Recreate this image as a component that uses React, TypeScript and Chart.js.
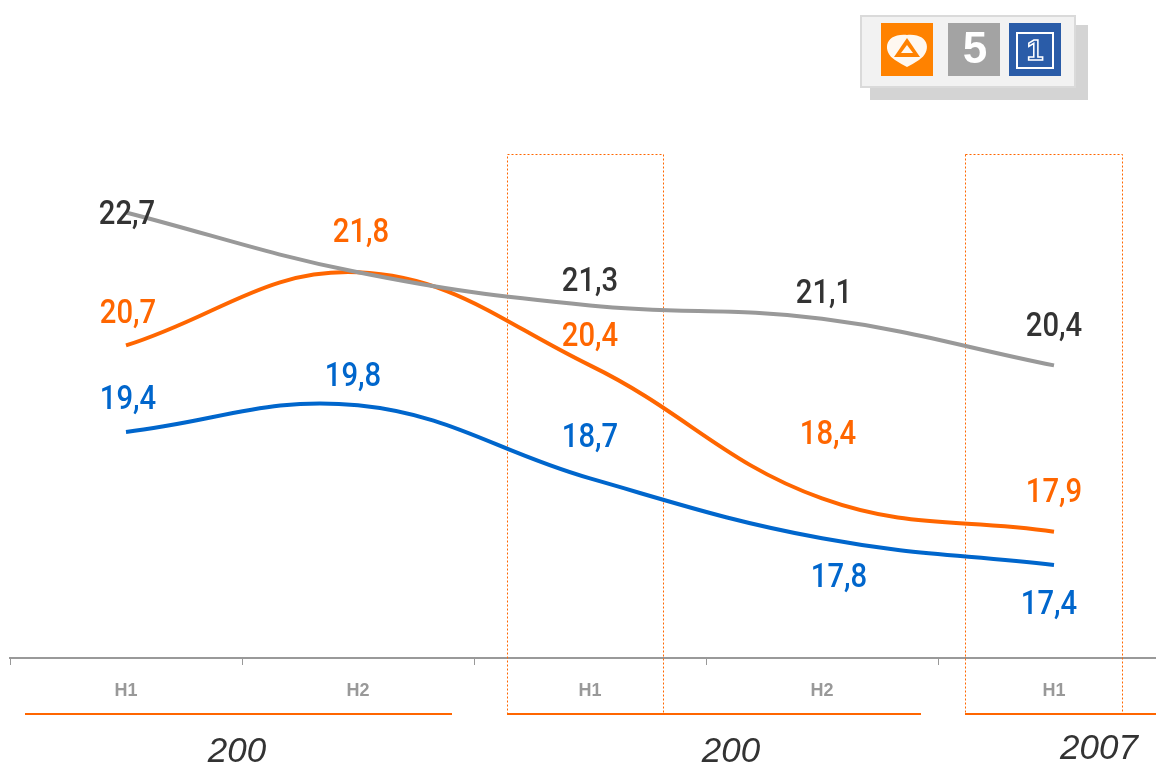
import React, { useEffect, useRef } from 'react';
import { Chart, registerables } from 'chart.js';

Chart.register(...registerables);

// ---------- data ----------
const categories = ['H1', 'H2', 'H1', 'H2', 'H1'];
const telecinco = [22.7, 21.8, 21.3, 21.1, 20.4];
const antena3 = [20.7, 21.8, 20.4, 18.4, 17.9];
const tve1 = [19.4, 19.8, 18.7, 17.8, 17.4];
const telecincoShown = [true, false, true, true, true];
const antena3Shown = [true, true, true, true, true];
const tve1Shown = [true, true, true, true, true];
const yearLabels = ['200', '200', '2007'];
const highlightedCategories = [2, 4];

// ---------- style ----------
const GRAY = '#999999';
const ORANGE = '#FF6600';
const BLUE = '#0066CC';
const DARK = '#333333';
const LABEL_FONT = 'Roboto, "Liberation Sans", sans-serif';
const LABEL_SQUEEZE = 0.86;

// label offsets (dx, dy) from the point, per series
const telecincoOffsets = [[1, 3], [0, 0], [0, -23], [2, -24], [0, -38]];
const antena3Offsets = [[2, -31], [3, -39], [0, -28], [6, -63], [0, -38]];
const tve1Offsets = [[2, -31], [-5, -28], [0, -40], [17, 40], [-5, 41]];

const yearPos = [[237, 752], [731, 752], [1099, 749]];
const boxExtents = [[-83, 73], [-89, 68]];
const underlineSegments = [[25, 452], [507, 921], [965, 1170]];

const overlayPlugin = {
  id: 'overlay',
  beforeDatasetsDraw(chart: any) {
    const ctx = chart.ctx;
    const xs = chart.scales.x;
    ctx.save();
    ctx.strokeStyle = ORANGE;
    ctx.lineWidth = 1;
    ctx.setLineDash([2, 2]);
    highlightedCategories.forEach((ci, i) => {
      const cx = xs.getPixelForValue(ci);
      const x0 = Math.round(cx + boxExtents[i][0]) + 0.5;
      const x1 = Math.round(cx + boxExtents[i][1]) + 0.5;
      ctx.strokeRect(x0, 154.5, x1 - x0, 560);
    });
    ctx.restore();
  },
  afterDatasetsDraw(chart: any) {
    const ctx = chart.ctx;
    const series = [
      { data: telecinco, shown: telecincoShown, off: telecincoOffsets, color: DARK, idx: 0 },
      { data: antena3, shown: antena3Shown, off: antena3Offsets, color: ORANGE, idx: 1 },
      { data: tve1, shown: tve1Shown, off: tve1Offsets, color: BLUE, idx: 2 },
    ];
    ctx.save();
    ctx.textAlign = 'center';
    ctx.textBaseline = 'middle';
    ctx.font = `500 34px ${LABEL_FONT}`;
    series.forEach((s) => {
      const meta = chart.getDatasetMeta(s.idx);
      ctx.fillStyle = s.color;
      s.data.forEach((v, i) => {
        if (!s.shown[i]) return;
        const pt = meta.data[i];
        ctx.save();
        ctx.translate(pt.x + s.off[i][0], pt.y + s.off[i][1]);
        ctx.scale(LABEL_SQUEEZE, 1);
        ctx.fillText(v.toFixed(1).replace('.', ','), 0, 0);
        ctx.restore();
      });
    });
    ctx.restore();
  },
  afterDraw(chart: any) {
    const ctx = chart.ctx;
    ctx.save();
    // underlines
    ctx.strokeStyle = ORANGE;
    ctx.lineWidth = 2;
    underlineSegments.forEach(([a, b]) => {
      ctx.beginPath();
      ctx.moveTo(a, 714);
      ctx.lineTo(b, 714);
      ctx.stroke();
    });
    // years
    ctx.fillStyle = DARK;
    ctx.font = 'italic 35px "Liberation Sans", Arial, sans-serif';
    ctx.textAlign = 'center';
    ctx.textBaseline = 'middle';
    yearLabels.forEach((t, i) => ctx.fillText(t, yearPos[i][0], yearPos[i][1]));

    // legend box with logos
    ctx.fillStyle = '#d4d4d4';
    ctx.fillRect(870, 25, 218, 75);
    ctx.fillStyle = '#f2f2f2';
    ctx.fillRect(860, 15, 216, 73);
    ctx.strokeStyle = '#dadada';
    ctx.lineWidth = 2;
    ctx.strokeRect(861, 16, 214, 71);

    // Antena 3
    ctx.fillStyle = '#FF8200';
    ctx.fillRect(881, 23, 52, 53);
    ctx.fillStyle = '#fff8f0';
    ctx.beginPath();
    ctx.moveTo(907, 35);
    ctx.bezierCurveTo(930, 33, 932, 52, 919, 60);
    ctx.quadraticCurveTo(913, 64, 907, 67);
    ctx.quadraticCurveTo(901, 64, 895, 60);
    ctx.bezierCurveTo(882, 52, 884, 33, 907, 35);
    ctx.fill();
    ctx.fillStyle = '#FF8200';
    ctx.beginPath();
    ctx.moveTo(907, 38);
    ctx.lineTo(920, 57);
    ctx.lineTo(894, 57);
    ctx.closePath();
    ctx.fill();
    ctx.fillStyle = '#fff8f0';
    ctx.beginPath();
    ctx.moveTo(907, 45);
    ctx.lineTo(913, 53);
    ctx.lineTo(901, 53);
    ctx.closePath();
    ctx.fill();

    // Telecinco
    ctx.fillStyle = '#A3A3A3';
    ctx.fillRect(948, 23, 52, 53);
    ctx.fillStyle = '#ffffff';
    ctx.font = 'bold 44px "Liberation Sans", Arial, sans-serif';
    ctx.textAlign = 'center';
    ctx.textBaseline = 'middle';
    ctx.fillText('5', 975, 51);

    // TVE 1
    ctx.fillStyle = '#2A5CA8';
    ctx.fillRect(1009, 23, 52, 53);
    ctx.strokeStyle = '#ffffff';
    ctx.lineWidth = 2;
    ctx.strokeRect(1017, 33, 36, 35);
    ctx.lineWidth = 1.5;
    ctx.font = 'bold 30px "Liberation Sans", Arial, sans-serif';
    ctx.strokeText('1', 1035, 52);
    ctx.restore();
  },
};

export default function App() {
  const canvasRef = useRef<HTMLCanvasElement | null>(null);

  useEffect(() => {
    const canvas = canvasRef.current;
    if (!canvas) return;
    const chart = new Chart(canvas, {
      type: 'line',
      data: {
        labels: categories,
        datasets: [
          { label: 'Telecinco', data: telecinco, borderColor: GRAY, borderWidth: 4, pointRadius: 0, tension: 0.4, fill: false },
          { label: 'Antena 3', data: antena3, borderColor: ORANGE, borderWidth: 4, pointRadius: 0, tension: 0.4, fill: false },
          { label: 'TVE1', data: tve1, borderColor: BLUE, borderWidth: 4, pointRadius: 0, tension: 0.4, fill: false },
        ],
      },
      options: {
        responsive: false,
        animation: false,
        devicePixelRatio: 1,
        layout: { padding: { left: 10, right: 0, top: 126, bottom: 0 } },
        plugins: { legend: { display: false }, tooltip: { enabled: false } },
        scales: {
          x: {
            offset: true,
            grid: { offset: true, drawOnChartArea: false, drawTicks: true, tickLength: 7, color: GRAY, lineWidth: 1 },
            border: { display: true, color: GRAY, width: 2 },
            ticks: {
              color: GRAY,
              padding: 15,
              font: { family: '"Liberation Sans", Arial, sans-serif', size: 18, weight: 'bold' },
              maxRotation: 0,
              autoSkip: false,
            },
            afterFit: (scale: any) => {
              scale.height = 110;
            },
          },
          y: { display: false, min: 16, max: 24 },
        },
      },
      plugins: [overlayPlugin],
    } as any);
    return () => chart.destroy();
  }, []);

  return (
    <div style={{ position: 'absolute', left: 0, top: 0, width: 1156, height: 768, overflow: 'hidden', background: '#ffffff' }}>
      <canvas ref={canvasRef} width={1170} height={768} style={{ width: 1170, height: 768, display: 'block' }} />
    </div>
  );
}
